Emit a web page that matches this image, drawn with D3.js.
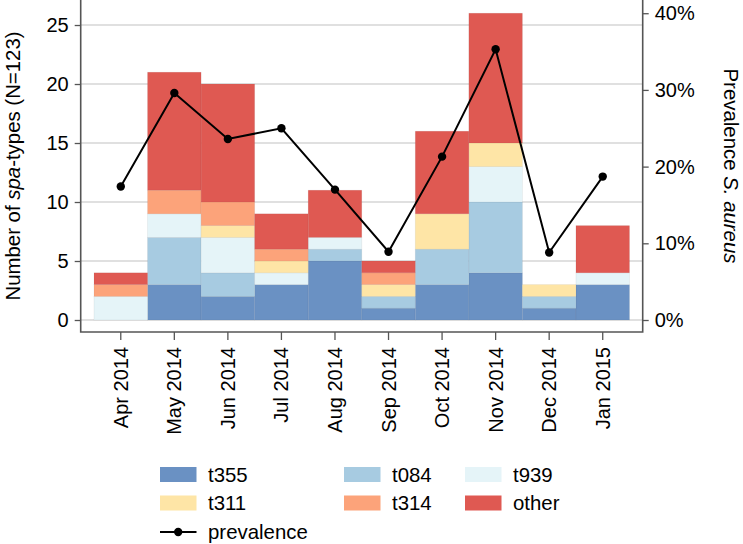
<!DOCTYPE html>
<html><head><meta charset="utf-8">
<script src="https://cdn.jsdelivr.net/npm/d3@7"></script>
<style>
html,body{margin:0;padding:0;background:#fff;}
svg text{font-family:"Liberation Sans",Arial,Helvetica,sans-serif;fill:#000;}
</style></head>
<body>
<svg id="chart" width="743" height="544"></svg>
<script>
const months = ["Apr 2014","May 2014","Jun 2014","Jul 2014","Aug 2014","Sep 2014","Oct 2014","Nov 2014","Dec 2014","Jan 2015"];
const seriesNames = ["t355","t084","t939","t311","t314","other"];
const t355  = [0,3,2,3,5,1,3,4,1,3];
const t084  = [0,4,2,0,1,1,3,6,1,0];
const t939  = [2,2,3,1,1,0,0,3,0,1];
const t311  = [0,0,1,1,0,1,3,2,1,0];
const t314  = [1,2,2,1,0,1,0,0,0,0];
const other = [1,10,10,3,4,1,7,11,0,4];
const prevalence = [17.4,29.6,23.6,25.0,17.0,8.9,21.3,35.3,8.8,18.7];
const leftTicks = [0,5,10,15,20,25];
const rightTicks = [0,10,20,30,40];
const colors = {t355:"#6a91c3",t084:"#a7cbe1",t939:"#e5f4f8",t311:"#fee5a6",t314:"#fca37a",other:"#df5952"};
const legendRows = [["t355","t084","t939"],["t311","t314","other"]];

const seriesVals = {t355,t084,t939,t311,t314,other};
const table = months.map((m,i)=>{const r={month:m}; seriesNames.forEach(s=>r[s]=seriesVals[s][i]); r.prev=prevalence[i]; return r;});

const svg = d3.select("#chart");
const L = 80.7, R = 642.7, T = 0, B = 332;
const x = d3.scaleBand().domain(months).range([94,629.5]).padding(0);
const y = d3.scaleLinear().domain([-1.017,27.12]).range([B,T]);
const y2 = d3.scaleLinear().domain([-1.017*40/26,27.12*40/26]).range([B,T]);
const fs = 20, fsT = 20.4;

// gridlines
svg.append("g").selectAll("line").data(leftTicks).join("line")
  .attr("x1",L).attr("x2",R).attr("y1",d=>y(d)).attr("y2",d=>y(d))
  .attr("stroke","#d6d6d6").attr("stroke-width",1.6);

// bars
const stack = d3.stack().keys(seriesNames)(table);
svg.append("g").selectAll("g").data(stack).join("g")
  .attr("fill",d=>colors[d.key])
  .selectAll("rect").data(d=>d).join("rect")
  .attr("x",d=>x(d.data.month)).attr("width",x.bandwidth())
  .attr("y",d=>y(d[1])).attr("height",d=>y(d[0])-y(d[1]))
  .attr("stroke","rgba(60,60,80,0.08)").attr("stroke-width",0.8);

// prevalence line
const cx = d=>x(d.month)+x.bandwidth()/2;
svg.append("path").datum(table)
  .attr("d",d3.line().x(cx).y(d=>y2(d.prev)))
  .attr("fill","none").attr("stroke","#000").attr("stroke-width",2);
svg.append("g").selectAll("circle").data(table).join("circle")
  .attr("cx",cx).attr("cy",d=>y2(d.prev)).attr("r",4.2).attr("fill","#000");

// axes
const axisColor = "#555";
const gl = svg.append("g").attr("transform",`translate(${L},0)`)
  .call(d3.axisLeft(y).tickValues(leftTicks).tickSize(6).tickPadding(6));
const gr = svg.append("g").attr("transform",`translate(${R},0)`)
  .call(d3.axisRight(y2).tickValues(rightTicks).tickSize(6).tickPadding(6).tickFormat(d=>d+"%"));
const gb = svg.append("g").attr("transform",`translate(0,${B})`)
  .call(d3.axisBottom(x).tickSize(8).tickPadding(0));
[gl,gr,gb].forEach(g=>{
  g.select(".domain").remove();
  g.selectAll(".tick line").attr("stroke",axisColor).attr("stroke-width",1.3);
  g.selectAll("text").attr("font-size",fs).attr("font-family","Liberation Sans, Arial, sans-serif");
});
gb.selectAll(".tick text").attr("transform","rotate(-90)").attr("text-anchor","end")
  .attr("x",-15).attr("y",0).attr("dy","0.35em");
// frame lines
svg.append("path").attr("d",`M${L},${T}V${B}H${R}V${T}`).attr("fill","none")
  .attr("stroke",axisColor).attr("stroke-width",1.6);

// axis titles
const yt = svg.append("text").attr("transform",`translate(20,166) rotate(-90)`)
  .attr("text-anchor","middle").attr("font-size",fsT);
yt.append("tspan").text("Number of ");
yt.append("tspan").attr("font-style","italic").text("spa");
yt.append("tspan").text("-types (N=123)");
const rt = svg.append("text").attr("transform",`translate(724,166) rotate(90)`)
  .attr("text-anchor","middle").attr("font-size",fsT);
rt.append("tspan").text("Prevalence ");
rt.append("tspan").attr("font-style","italic").text("S. aureus");

// legend
const colX = [160,344,465];
const rowY = [474.5,503];
const lg = svg.append("g");
legendRows.forEach((row,ri)=>row.forEach((k,ci)=>{
  lg.append("rect").attr("x",colX[ci]).attr("y",rowY[ri]-7.5).attr("width",36.5).attr("height",15).attr("fill",colors[k]);
  lg.append("text").attr("x",colX[ci]+48).attr("y",rowY[ri]).attr("dy","0.35em").attr("font-size",fsT).text(k);
}));
const py = 532;
lg.append("line").attr("x1",160).attr("x2",196.5).attr("y1",py).attr("y2",py).attr("stroke","#000").attr("stroke-width",2);
lg.append("circle").attr("cx",178.2).attr("cy",py).attr("r",4.2).attr("fill","#000");
lg.append("text").attr("x",208).attr("y",py).attr("dy","0.35em").attr("font-size",fsT).text("prevalence");
</script>
</body></html>
